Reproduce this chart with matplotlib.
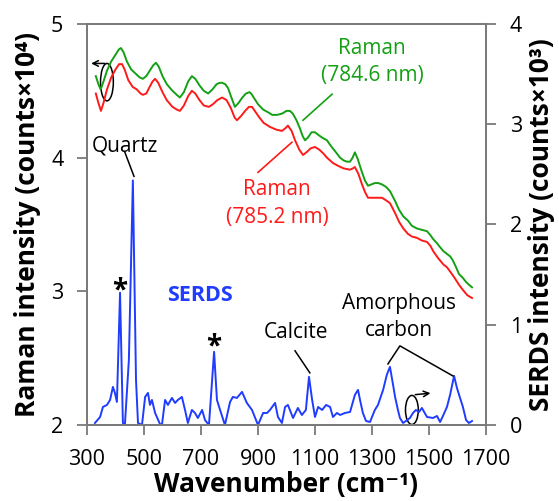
import matplotlib
matplotlib.use("Agg")
import matplotlib.pyplot as plt
from matplotlib.patches import Ellipse

plt.rcParams['font.family'] = ['Open Sans', 'DejaVu Sans']

# Raman 784.6 nm (green), left axis, counts x 10^4
green_wn = [331, 340, 348, 358, 370, 385, 400, 412, 419, 428, 440, 455, 470, 485, 496, 508,
            520, 532, 542, 552, 565, 580, 600, 615, 626, 640, 655, 668, 680, 695, 710, 725,
            740, 755, 766, 774, 785, 795, 805, 819, 832, 845, 858, 870, 876, 888, 900, 918,
            935, 950, 967, 985, 1000, 1012, 1022, 1035, 1047, 1057, 1065, 1075, 1088, 1100,
            1112, 1125, 1142, 1155, 1170, 1188, 1200, 1212, 1223, 1232, 1240, 1250, 1262,
            1275, 1286, 1298, 1310, 1322, 1335, 1350, 1363, 1380, 1395, 1410, 1426, 1440,
            1458, 1475, 1493, 1505, 1515, 1528, 1539, 1551, 1563, 1575, 1584, 1595, 1605,
            1619, 1630, 1640, 1651]
green_val = [4.61, 4.55, 4.51, 4.57, 4.65, 4.72, 4.77, 4.81, 4.82, 4.79, 4.72, 4.66, 4.63,
             4.60, 4.59, 4.61, 4.65, 4.69, 4.71, 4.68, 4.61, 4.55, 4.50, 4.47, 4.45, 4.49,
             4.57, 4.61, 4.59, 4.54, 4.50, 4.48, 4.51, 4.55, 4.56, 4.56, 4.55, 4.52, 4.46,
             4.38, 4.41, 4.45, 4.48, 4.49, 4.48, 4.44, 4.40, 4.36, 4.34, 4.32, 4.32, 4.33,
             4.35, 4.35, 4.33, 4.28, 4.22, 4.16, 4.13, 4.15, 4.19, 4.19, 4.17, 4.15, 4.13,
             4.09, 4.05, 4.00, 3.98, 3.97, 3.97, 4.00, 4.04, 3.99, 3.91, 3.83, 3.79, 3.80,
             3.81, 3.81, 3.80, 3.78, 3.75, 3.68, 3.61, 3.56, 3.53, 3.49, 3.47, 3.46, 3.45,
             3.42, 3.39, 3.36, 3.33, 3.30, 3.28, 3.26, 3.23, 3.18, 3.13, 3.10, 3.07, 3.05,
             3.03]

# Raman 785.2 nm (red), left axis
red_wn = [331, 340, 349, 358, 370, 385, 400, 413, 423, 432, 445, 460, 475, 488, 496, 508,
          520, 530, 539, 550, 565, 580, 600, 615, 626, 640, 655, 668, 680, 695, 710, 728,
          742, 757, 774, 790, 805, 818, 826, 840, 855, 868, 879, 892, 905, 920, 942, 964,
          984, 996, 1005, 1018, 1030, 1045, 1058, 1070, 1085, 1100, 1115, 1130, 1142, 1163,
          1180, 1200, 1223, 1233, 1240, 1252, 1265, 1276, 1286, 1300, 1312, 1325, 1335,
          1350, 1363, 1380, 1395, 1410, 1426, 1440, 1458, 1475, 1493, 1505, 1515, 1528,
          1539, 1551, 1563, 1577, 1590, 1605, 1619, 1635, 1651]
red_val = [4.48, 4.41, 4.35, 4.41, 4.51, 4.60, 4.66, 4.70, 4.70, 4.66, 4.58, 4.53, 4.51,
           4.48, 4.47, 4.48, 4.53, 4.57, 4.59, 4.56, 4.49, 4.43, 4.38, 4.36, 4.35, 4.39,
           4.46, 4.50, 4.48, 4.43, 4.39, 4.38, 4.40, 4.43, 4.45, 4.43, 4.37, 4.30, 4.28,
           4.31, 4.35, 4.38, 4.38, 4.34, 4.30, 4.26, 4.23, 4.21, 4.20, 4.22, 4.24, 4.20,
           4.13, 4.06, 4.02, 4.04, 4.07, 4.08, 4.06, 4.03, 4.00, 3.96, 3.94, 3.92, 3.91,
           3.92, 3.93, 3.88, 3.80, 3.74, 3.70, 3.70, 3.70, 3.70, 3.70, 3.68, 3.66, 3.59,
           3.52, 3.47, 3.43, 3.41, 3.40, 3.38, 3.37, 3.34, 3.30, 3.26, 3.23, 3.20, 3.18,
           3.14, 3.10, 3.05, 3.01, 2.97, 2.95]

# SERDS spectrum (blue), right axis, counts x 10^3
serds_wn = [328, 346, 356, 370, 381, 391, 398, 405, 416, 426, 433, 447, 461, 472, 479, 493,
            504, 514, 521, 528, 539, 556, 563, 574, 584, 598, 609, 619, 633, 644, 654, 668,
            679, 689, 704, 714, 728, 746, 756, 767, 784, 802, 812, 826, 844, 861, 879, 900,
            918, 932, 942, 960, 970, 984, 995, 1005, 1023, 1040, 1054, 1068, 1079, 1090,
            1100, 1111, 1125, 1139, 1153, 1163, 1177, 1188, 1205, 1223, 1240, 1251, 1258,
            1268, 1279, 1293, 1310, 1321, 1339, 1352, 1363, 1374, 1381, 1391, 1398, 1409,
            1419, 1433, 1444, 1454, 1465, 1475, 1493, 1514, 1528, 1539, 1549, 1563, 1574,
            1588, 1598, 1609, 1619, 1630, 1640, 1651]
serds_val = [0.02, 0.08, 0.18, 0.20, 0.25, 0.38, 0.32, 0.23, 1.32, 0.02, 0.00, 0.65, 2.44,
             0.45, 0.02, 0.00, 0.28, 0.32, 0.20, 0.25, 0.12, 0.01, 0.00, 0.25, 0.20, 0.27,
             0.22, 0.25, 0.28, 0.15, 0.02, 0.15, 0.12, 0.07, 0.15, 0.05, 0.00, 0.73, 0.25,
             0.15, 0.00, 0.23, 0.28, 0.27, 0.33, 0.22, 0.15, 0.00, 0.12, 0.12, 0.15, 0.22,
             0.08, 0.02, 0.18, 0.20, 0.07, 0.17, 0.10, 0.15, 0.48, 0.25, 0.08, 0.18, 0.15,
             0.20, 0.18, 0.08, 0.12, 0.10, 0.12, 0.13, 0.30, 0.35, 0.25, 0.12, 0.04, 0.03,
             0.15, 0.20, 0.35, 0.50, 0.58, 0.40, 0.28, 0.15, 0.07, 0.02, 0.04, 0.07, 0.12,
             0.15, 0.13, 0.17, 0.08, 0.07, 0.09, 0.03, 0.09, 0.18, 0.30, 0.49, 0.37, 0.27,
             0.18, 0.05, 0.02, 0.04]

x_ticks = [300, 500, 700, 900, 1100, 1300, 1500, 1700]
left_ticks = [2, 3, 4, 5]
right_ticks = [0, 1, 2, 3, 4]

GREEN = '#14a014'
RED = '#ff1a1a'
BLUE = '#1f3cff'
SPINE = '#7a7a7a'

fig = plt.figure(figsize=(5.59, 5.01), dpi=100)
ax = fig.add_axes([0.1556, 0.1517, 0.7138, 0.8004])
ax2 = ax.twinx()

ax.plot(green_wn, green_val, color=GREEN, lw=1.4)
ax.plot(red_wn, red_val, color=RED, lw=1.4)
ax2.plot(serds_wn, serds_val, color=BLUE, lw=1.4)

ax.set_xlim(300, 1700)
ax.set_ylim(2, 5)
ax2.set_ylim(0, 4)
ax.set_xticks(x_ticks)
ax.set_yticks(left_ticks)
ax2.set_yticks(right_ticks)

for a in (ax, ax2):
    for s in a.spines.values():
        s.set_color(SPINE)
        s.set_linewidth(1.3)
    a.tick_params(direction='out', length=7, width=1.3, color=SPINE,
                  labelsize=15.5, pad=10)

ax.set_xlabel('Wavenumber (cm⁻¹)', fontsize=19, fontweight='bold', labelpad=1)
ax.set_ylabel('Raman intensity (counts×10⁴)', fontsize=19, fontweight='bold', labelpad=7)
ax2.set_ylabel('SERDS intensity (counts×10³)', fontsize=19, fontweight='bold', labelpad=4)

ax.set_zorder(ax2.get_zorder() + 1)
ax.patch.set_visible(False)

fs = 15
# Raman labels
ax.text(1300, 4.715, 'Raman\n(784.6 nm)', color=GREEN, fontsize=fs, ha='center', va='center',
        linespacing=1.4)
ax.plot([1160, 1058], [4.475, 4.28], color=GREEN, lw=1.2)
ax.text(967, 3.657, 'Raman\n(785.2 nm)', color=RED, fontsize=fs, ha='center', va='center',
        linespacing=1.4)
ax.plot([1019, 900], [4.115, 3.89], color=RED, lw=1.2)

# peak labels
ax.text(433, 4.09, 'Quartz', fontsize=fs, ha='center', va='center')
ax.plot([433, 465], [4.04, 3.86], color='black', lw=1.1)
ax.text(416, 2.948, '*', fontsize=20, ha='center', va='baseline', fontweight='bold')
ax.text(746, 2.528, '*', fontsize=20, ha='center', va='baseline', fontweight='bold')
ax.text(697, 2.967, 'SERDS', color=BLUE, fontsize=15.5, fontweight='bold', ha='center', va='center')
ax.text(1033, 2.69, 'Calcite', fontsize=fs, ha='center', va='center')
ax.plot([1030, 1082], [2.555, 2.39], color='black', lw=1.1)
ax.text(1396, 2.81, 'Amorphous\ncarbon', fontsize=fs, ha='center', va='center', linespacing=1.4)
ax.plot([1356, 1398, 1584], [2.457, 2.592, 2.367], color='black', lw=1.1)

# axis indicators
ax.add_patch(Ellipse((370, 4.565), 45, 0.28, angle=0, fill=False, ec='black', lw=1.1))
ax.annotate('', xy=(305, 4.705), xytext=(372, 4.705),
            arrowprops=dict(arrowstyle='->', color='black', lw=1.1))
ax2.add_patch(Ellipse((1440, 0.15), 45, 0.29, fill=False, ec='black', lw=1.1))
ax2.annotate('', xy=(1515, 0.32), xytext=(1442, 0.30),
             arrowprops=dict(arrowstyle='->', color='black', lw=1.1))

fig.savefig('out.png', dpi=100)
